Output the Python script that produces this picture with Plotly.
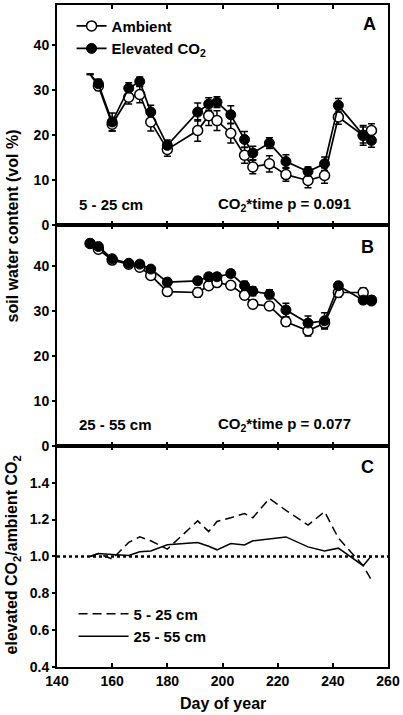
import plotly.graph_objects as go

# ---------------- data ----------------
days = [152, 155, 160, 166, 170, 174, 180, 191, 195, 198, 203, 208, 211, 217, 223, 231, 237, 242, 251, 254]

# Panel A: 5 - 25 cm soil water content (vol %)
a_amb = [33.6, 31.0, 22.5, 28.5, 29.1, 23.0, 16.9, 21.1, 24.4, 23.3, 20.5, 15.6, 13.0, 13.7, 11.3, 10.0, 11.1, 24.1, 20.0, 21.1]
a_amb_err = [0.05, 1.0, 1.5, 1.5, 1.8, 2.0, 1.5, 2.4, 2.2, 2.2, 2.2, 1.8, 1.5, 1.8, 1.5, 1.6, 1.7, 1.6, 2.2, 1.5]
a_elev = [33.6, 31.5, 23.0, 30.5, 32.0, 25.2, 17.8, 25.2, 27.0, 27.4, 24.6, 19.1, 16.1, 18.3, 14.2, 12.0, 13.7, 26.7, 20.1, 18.9]
a_elev_err = [0.05, 1.0, 2.0, 1.2, 1.0, 1.5, 1.2, 2.0, 1.4, 1.2, 2.0, 1.8, 1.5, 1.2, 1.5, 1.0, 1.5, 1.5, 1.8, 1.5]

# Panel B: 25 - 55 cm
b_amb = [45.0, 43.7, 41.3, 40.4, 39.7, 37.9, 34.3, 34.1, 35.6, 36.3, 35.7, 33.5, 31.5, 31.1, 27.6, 25.6, 27.3, 34.1, 34.1, 32.4]
b_amb_err = [0.4, 0.5, 0.6, 0.5, 0.5, 0.6, 0.8, 1.0, 0.8, 0.8, 0.8, 0.8, 0.8, 0.8, 1.0, 1.2, 1.2, 1.0, 1.0, 0.8]
b_elev = [45.0, 44.3, 41.6, 40.6, 40.4, 39.3, 36.4, 36.7, 37.6, 37.6, 38.3, 35.6, 34.4, 33.7, 30.2, 27.3, 27.8, 35.6, 32.4, 32.2]
b_elev_err = [0.4, 0.5, 0.6, 0.5, 0.5, 0.6, 0.8, 0.8, 0.8, 0.8, 0.8, 1.0, 1.0, 1.0, 1.5, 1.6, 1.8, 0.8, 0.8, 0.6]

# Panel C: elevated / ambient ratio
c_shallow = [1.0, 1.016, 0.986, 1.076, 1.106, 1.085, 1.04, 1.193, 1.135, 1.19, 1.21, 1.233, 1.21, 1.315, 1.25, 1.17, 1.243, 1.10, 0.95, 0.872]
c_deep = [1.0, 1.016, 1.011, 1.005, 1.025, 1.03, 1.063, 1.076, 1.055, 1.036, 1.07, 1.062, 1.085, 1.097, 1.106, 1.052, 1.03, 1.045, 0.95, 1.004]

x_ticks = [140, 160, 180, 200, 220, 240, 260]
swc_ticks = [0, 10, 20, 30, 40]
ratio_ticks = [0.4, 0.6, 0.8, 1.0, 1.2, 1.4]
ratio_tick_text = ["0.4", "0.6", "0.8", "1.0", "1.2", "1.4"]

# ---------------- figure ----------------
FONT = "Liberation Sans, Arial, sans-serif"
fig = go.Figure()
MS = 10
LW = 1.7

def add_errors(x, vals, errs, xa, ya):
    # error bars drawn underneath the markers
    fig.add_trace(go.Scatter(
        x=x, y=vals, xaxis=xa, yaxis=ya, mode="markers", showlegend=False,
        hoverinfo="skip", marker=dict(size=4, color="black", opacity=0),
        error_y=dict(type="data", array=errs, color="black", thickness=1.5, width=3.5),
    ))

def add_line_only(x, vals, xa, ya):
    fig.add_trace(go.Scatter(
        x=x, y=vals, xaxis=xa, yaxis=ya, mode="lines", showlegend=False,
        hoverinfo="skip", line=dict(color="black", width=LW),
    ))

def add_series(x, vals, xa, ya, name, fill, legend_on):
    fig.add_trace(go.Scatter(
        x=x, y=vals, xaxis=xa, yaxis=ya, mode="lines+markers",
        name=name, showlegend=legend_on, legend="legend",
        line=dict(color="black", width=LW),
        marker=dict(symbol="circle", size=MS, color=fill,
                    line=dict(color="black", width=1.5 if fill == "white" else 1)),
    ))

NAME_AMB = "Ambient"
NAME_ELEV = "Elevated CO<sub>2</sub>"

# error bars first (below everything else)
add_errors(days, a_amb, a_amb_err, "x", "y")
add_errors(days, a_elev, a_elev_err, "x", "y")
add_errors(days, b_amb, b_amb_err, "x2", "y2")
add_errors(days, b_elev, b_elev_err, "x2", "y2")

# panel A: first sampling day has no marker, only the line start
add_line_only(days[:2], a_amb[:2], "x", "y")
add_line_only(days[:2], a_elev[:2], "x", "y")
add_series(days[1:], a_amb[1:], "x", "y", NAME_AMB, "white", True)
add_series(days[1:], a_elev[1:], "x", "y", NAME_ELEV, "black", True)

# panel B
add_series(days, b_amb, "x2", "y2", NAME_AMB, "white", False)
add_series(days, b_elev, "x2", "y2", NAME_ELEV, "black", False)

# panel C
fig.add_trace(go.Scatter(
    x=days, y=c_shallow, xaxis="x3", yaxis="y3", mode="lines",
    name="5 - 25 cm", legend="legend2",
    line=dict(color="black", width=1.5, dash="9px,5px"),
))
fig.add_trace(go.Scatter(
    x=days, y=c_deep, xaxis="x3", yaxis="y3", mode="lines",
    name="25 - 55 cm", legend="legend2",
    line=dict(color="black", width=1.5),
))

tickfont = dict(family=FONT, size=14, color="black", weight="bold")

def xax(domain_anchor, labels):
    return dict(
        anchor=domain_anchor, domain=[0, 1], range=[140, 260], tickvals=x_ticks,
        showticklabels=labels, ticks="inside", ticklen=4, tickwidth=1.5, tickcolor="black",
        mirror="ticks", showline=True, linewidth=2, linecolor="black",
        showgrid=False, zeroline=False, tickfont=tickfont,
    )

def yax(domain, rng, tv, anchor, tt=None):
    d = dict(
        anchor=anchor, domain=domain, range=rng, tickvals=tv,
        ticks="outside", ticklen=3, tickwidth=1.5, tickcolor="black",
        mirror=True, showline=True, linewidth=2, linecolor="black",
        showgrid=False, zeroline=False, tickfont=tickfont,
    )
    if tt is not None:
        d["ticktext"] = tt
    return d

def yright(over, rng, tv, anchor):
    return dict(
        overlaying=over, side="right", range=rng, tickvals=tv, anchor=anchor,
        ticks="inside", ticklen=4, tickwidth=1.5, tickcolor="black",
        showticklabels=False, showgrid=False, zeroline=False, showline=False,
    )

dA = [0.667, 1.0]
dB = [0.334, 0.667]
dC = [0.0, 0.334]

legfont = dict(family=FONT, size=15, color="black", weight="bold")

fig.update_layout(
    width=403, height=715,
    margin=dict(l=57, r=13, t=3, b=48),
    plot_bgcolor="white", paper_bgcolor="white",
    font=dict(family=FONT, color="black"),
    xaxis=xax("y", False), xaxis2=xax("y2", False), xaxis3=xax("y3", True),
    yaxis=yax(dA, [0, 49], swc_ticks, "x"),
    yaxis2=yax(dB, [0, 49], swc_ticks, "x2"),
    yaxis3=yax(dC, [0.4, 1.6], ratio_ticks, "x3", ratio_tick_text),
    yaxis4=yright("y", [0, 49], swc_ticks, "x"),
    yaxis5=yright("y2", [0, 49], swc_ticks, "x2"),
    yaxis6=yright("y3", [0.4, 1.6], ratio_ticks + [1.6], "x3"),
    legend=dict(x=0.044, y=0.993, xanchor="left", yanchor="top",
                bgcolor="rgba(0,0,0,0)", font=legfont,
                itemwidth=30, tracegroupgap=0),
    legend2=dict(x=0.05, y=0.105, xanchor="left", yanchor="top",
                 bgcolor="rgba(0,0,0,0)", font=legfont,
                 itemwidth=50, tracegroupgap=0),
    showlegend=True,
)

# dotted reference line at ratio 1.0
fig.add_shape(type="line", xref="x3", yref="y3", x0=140, x1=260, y0=1.0, y1=1.0,
              line=dict(color="black", width=2.5, dash="dot"))

ann = [("A", 0.97, 0.99), ("B", 0.965, 0.652), ("C", 0.965, 0.32)]
for t, x, y in ann:
    fig.add_annotation(text=t, x=x, y=y, xref="paper", yref="paper",
                       xanchor="right", yanchor="top", showarrow=False,
                       font=dict(family=FONT, size=18, color="black", weight="bold"))

bold15 = dict(family=FONT, size=15, color="black", weight="bold")
bold16 = dict(family=FONT, size=16, color="black", weight="bold")
panel_notes = [
    ("5 - 25 cm", 0.06, 0.699),
    ("CO<sub>2</sub>*time p = 0.091", 0.895, 0.699),
    ("25 - 55 cm", 0.06, 0.366),
    ("CO<sub>2</sub>*time p = 0.077", 0.895, 0.366),
]
for txt, x, y in panel_notes:
    fig.add_annotation(text=txt, x=x, y=y, xref="paper", yref="paper",
                       xanchor="left" if x < 0.5 else "right", yanchor="middle",
                       showarrow=False, font=bold15)

fig.add_annotation(text="soil water content (vol %)", x=-0.135, y=0.666, xref="paper", yref="paper",
                   textangle=-90, showarrow=False, xanchor="center", yanchor="middle", font=bold16)
fig.add_annotation(text="elevated CO<sub>2</sub>/ambient CO<sub>2</sub>", x=-0.135, y=0.169,
                   xref="paper", yref="paper", textangle=-90, showarrow=False,
                   xanchor="center", yanchor="middle", font=bold16)
fig.add_annotation(text="Day of year", x=0.5, y=-0.0557, xref="paper", yref="paper",
                   showarrow=False, xanchor="center", yanchor="middle", font=bold16)

fig.write_html("out.html", config={"displayModeBar": False},
               post_script="document.body.style.margin='0';document.body.style.overflow='hidden';")
